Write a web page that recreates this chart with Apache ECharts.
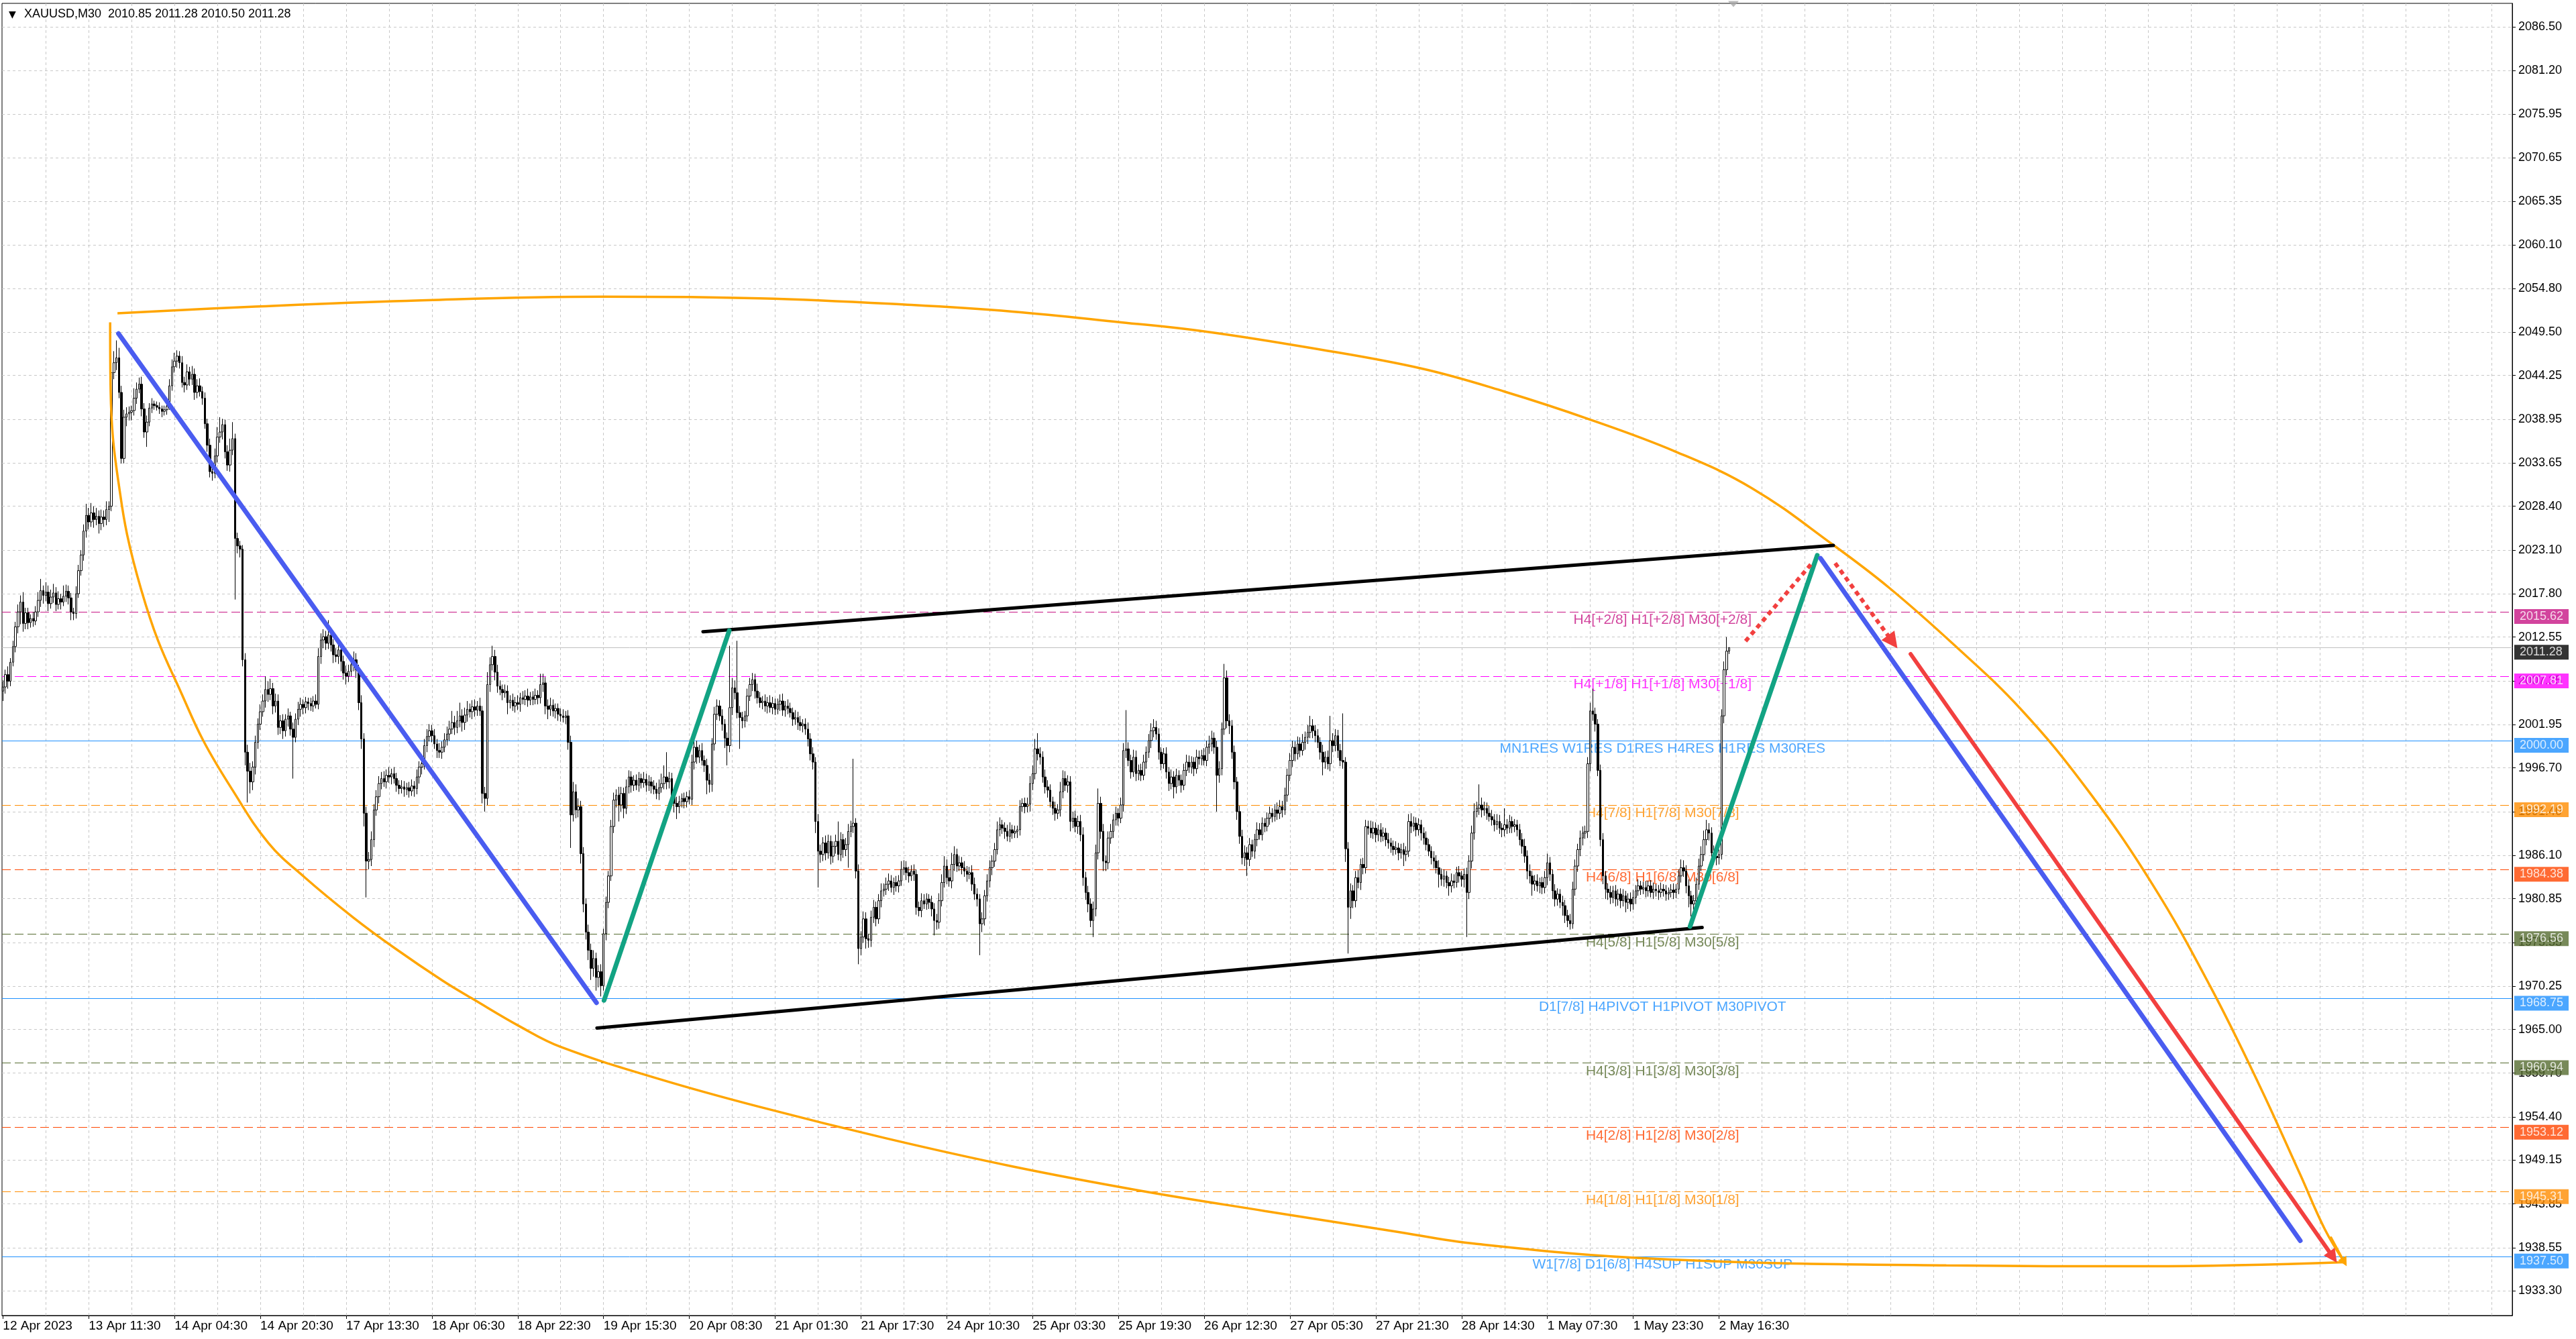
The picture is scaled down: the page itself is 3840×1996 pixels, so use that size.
<!DOCTYPE html>
<html><head><meta charset="utf-8">
<script src="https://cdn.jsdelivr.net/npm/echarts@6/dist/echarts.min.js"></script>
<style>html,body{margin:0;padding:0;background:#fff;}#c{width:3840px;height:1996px;}</style>
</head><body><div id="c"></div>
<script>
// ---------------- DATA ----------------
const xLabelIdx = [0,34,68,102,136,170,204,238,272,306,340,374,408,442,476,510,544,578,612,646,680];
const xLabels = ["12 Apr 2023","13 Apr 11:30","14 Apr 04:30","14 Apr 20:30","17 Apr 13:30","18 Apr 06:30","18 Apr 22:30","19 Apr 15:30","20 Apr 08:30","21 Apr 01:30","21 Apr 17:30","24 Apr 10:30","25 Apr 03:30","25 Apr 19:30","26 Apr 12:30","27 Apr 05:30","27 Apr 21:30","28 Apr 14:30","1 May 07:30","1 May 23:30","2 May 16:30"];
const yTicks = [2086.50,2081.20,2075.95,2070.65,2065.35,2060.10,2054.80,2049.50,2044.25,2038.95,2033.65,2028.40,2023.10,2017.80,2012.55,2007.25,2001.95,1996.70,1991.40,1986.10,1980.85,1975.55,1970.25,1965.00,1959.70,1954.40,1949.15,1943.85,1938.55,1933.30];

const firstOpen = 2006.0;
const closes = [
2006.5,2008.0,2007.2,2009.5,2011.4,2013.8,2015.6,2016.8,2014.2,2015.5,
2014.3,2014.8,2014.5,2015.6,2017.0,2018.2,2017.6,2018.0,2016.6,2017.4,
2017.9,2016.5,2017.2,2016.8,2017.5,2018.1,2017.3,2015.6,2015.4,2017.8,
2020.6,2022.5,2025.4,2027.3,2026.5,2027.6,2026.8,2027.2,2026.3,2027.1,
2026.8,2028.0,2028.4,2044.6,2045.8,2046.4,2042.2,2034.2,2039.2,2039.6,
2039.8,2040.0,2041.5,2042.6,2043.2,2040.2,2037.4,2038.6,2040.3,2040.8,
2040.6,2040.4,2040.2,2039.9,2040.1,2040.5,2043.0,2045.3,2046.0,2046.6,
2045.8,2043.4,2043.1,2044.7,2043.8,2044.4,2042.2,2043.0,2042.3,2041.5,
2038.4,2035.8,2032.6,2032.4,2034.5,2036.8,2037.4,2038.3,2035.0,2033.4,
2035.2,2036.6,2024.5,2023.6,2023.2,2009.8,1998.6,1996.3,1995.0,1996.8,
1999.8,2002.0,2003.5,2004.8,2006.2,2005.6,2006.3,2004.2,2004.8,2001.6,
2002.4,2001.2,2002.6,2003.0,2001.4,2000.4,2002.6,2003.8,2004.4,2004.0,
2004.7,2004.5,2004.2,2004.8,2004.4,2010.2,2012.2,2012.6,2011.8,2012.8,
2011.6,2010.4,2010.2,2011.0,2009.6,2008.2,2007.8,2008.4,2009.2,2009.8,
2008.6,2004.6,2000.2,1991.2,1985.4,1985.6,1988.0,1991.6,1993.2,1994.8,
1995.4,1995.0,1995.8,1995.6,1996.0,1995.4,1994.6,1994.2,1994.4,1994.1,
1994.3,1993.9,1994.5,1994.2,1995.6,1996.8,1997.2,1999.4,2000.5,2001.2,
2000.6,1999.6,1998.8,1998.6,1999.2,2000.1,2000.8,2001.4,2002.2,2001.6,
2002.4,2003.0,2002.2,2003.1,2003.8,2003.5,2004.1,2003.7,2004.2,2003.6,
1993.6,1993.0,2006.8,2009.2,2010.2,2008.3,2006.6,2006.2,2005.8,2006.0,
2004.6,2004.9,2004.2,2004.6,2004.4,2005.2,2005.0,2005.4,2004.9,2005.3,
2005.0,2005.5,2005.2,2006.8,2007.0,2004.2,2003.8,2004.3,2003.6,2003.9,
2003.2,2003.0,2002.8,2003.0,1999.8,1991.0,1993.8,1991.6,1992.0,1986.3,
1980.2,1976.8,1974.6,1972.4,1973.6,1971.3,1972.0,1970.3,1976.6,1980.4,
1983.6,1989.6,1992.8,1993.4,1992.2,1993.6,1991.8,1994.4,1995.6,1994.6,
1995.2,1994.6,1995.4,1994.9,1995.3,1994.6,1995.0,1994.5,1994.1,1993.6,
1994.3,1994.8,1995.6,1995.0,1995.4,1993.2,1992.4,1992.0,1992.6,1993.0,
1992.6,1993.2,1992.9,1997.4,1999.2,1998.0,1998.8,1997.6,1997.0,1995.2,
1994.7,1999.6,2003.2,2004.2,2003.0,2002.0,2000.3,1999.4,2004.0,2006.4,
2005.8,2003.4,2002.8,2002.4,2003.0,2005.4,2006.8,2007.4,2006.0,2005.2,
2004.6,2004.8,2004.2,2004.6,2004.0,2004.5,2003.8,2004.4,2004.8,2003.7,
2004.2,2003.9,2003.4,2002.6,2002.8,2002.2,2001.8,2002.0,2001.4,2000.2,
1998.4,1997.4,1990.2,1986.6,1986.2,1987.6,1986.4,1987.8,1986.0,1987.2,
1987.8,1986.2,1988.0,1986.8,1987.4,1989.0,1989.6,1990.0,1984.2,1974.8,
1976.2,1978.4,1976.0,1975.8,1978.6,1979.8,1978.4,1980.6,1981.8,1982.0,
1982.6,1983.0,1982.2,1982.8,1982.4,1983.0,1984.4,1984.6,1984.0,1983.6,
1984.2,1983.8,1979.8,1979.4,1980.6,1980.2,1980.8,1980.4,1979.6,1978.2,
1978.0,1980.6,1982.8,1984.8,1983.4,1983.0,1985.0,1986.2,1984.8,1985.2,
1984.6,1984.2,1983.8,1984.0,1982.6,1981.4,1980.8,1977.8,1978.4,1981.2,
1983.0,1984.6,1985.4,1986.8,1989.2,1989.8,1989.4,1989.0,1988.4,1989.2,
1988.8,1989.0,1989.2,1992.0,1992.4,1992.0,1992.3,1994.8,1996.0,1999.0,
1998.4,1998.0,1995.6,1994.4,1994.0,1992.6,1991.8,1991.2,1991.6,1993.8,
1995.4,1994.6,1995.0,1990.2,1990.6,1989.6,1990.2,1988.6,1983.4,1981.6,
1980.2,1978.2,1979.6,1986.4,1992.4,1989.0,1985.4,1985.2,1988.2,1989.0,
1990.4,1991.2,1990.6,1992.2,1998.8,1999.0,1997.6,1996.2,1998.0,1996.0,
1996.4,1995.8,1997.4,1998.6,2000.0,2001.2,2001.6,2000.8,1998.6,1997.2,
1998.4,1996.2,1994.8,1995.6,1994.4,1995.8,1995.2,1994.6,1996.4,1997.4,
1996.8,1997.4,1996.6,1998.0,1997.8,1998.2,1997.6,1999.2,1999.6,2000.3,
1999.2,1995.8,1996.6,2001.4,2007.6,2002.4,2001.8,1998.6,1995.0,1991.4,
1988.4,1985.8,1986.4,1985.6,1987.4,1986.6,1988.0,1989.2,1988.6,1990.0,
1989.6,1990.6,1991.2,1990.8,1991.6,1991.2,1992.0,1991.6,1993.4,1995.8,
1997.6,1999.2,1998.4,1999.6,1998.8,1999.8,2000.4,2001.0,2001.8,2001.2,
2000.6,1999.8,1998.6,1997.4,1998.0,1997.2,2000.0,1999.4,2000.6,1998.8,
1997.6,1997.4,1986.9,1979.8,1981.8,1980.6,1983.4,1982.8,1985.0,1984.6,
1989.6,1989.4,1988.8,1989.4,1988.6,1989.2,1988.4,1988.8,1988.0,1987.6,
1987.2,1986.8,1987.0,1986.4,1986.8,1986.2,1986.6,1990.2,1989.6,1990.0,
1989.2,1989.8,1988.8,1988.2,1987.4,1986.6,1985.8,1985.4,1984.6,1983.8,
1983.2,1983.6,1982.8,1982.4,1983.0,1982.8,1984.0,1983.6,1983.2,1983.8,
1981.6,1985.4,1988.8,1991.4,1991.8,1992.2,1991.6,1991.8,1991.2,1990.8,
1990.4,1989.8,1990.2,1989.4,1989.2,1989.8,1989.4,1990.2,1989.6,1989.8,
1989.2,1988.0,1987.2,1986.0,1984.2,1983.6,1982.6,1983.0,1982.4,1982.8,
1982.2,1983.4,1985.2,1983.8,1981.8,1980.8,1981.4,1980.4,1980.0,1978.8,
1978.2,1977.8,1982.0,1984.8,1986.8,1988.2,1988.8,1989.0,1997.2,2003.6,
2003.2,2002.0,1996.4,1988.0,1983.6,1982.0,1981.6,1981.0,1981.8,1980.8,
1981.4,1980.6,1981.2,1980.4,1980.8,1980.2,1981.0,1981.8,1982.4,1982.0,
1982.2,1981.8,1982.4,1981.6,1982.0,1981.8,1981.6,1982.0,1981.8,1981.4,
1981.6,1981.9,1981.6,1982.0,1983.6,1984.6,1984.2,1982.4,1981.2,1980.2,
1980.6,1982.6,1984.8,1986.2,1988.0,1989.2,1988.8,1986.4,1986.0,1985.8,
1986.2,2003.0,2008.6,2010.85,2011.28
];
const upWick = [
0.8,0.6,1.0,0.5,0.7,0.6,0.9,0.8,1.2,0.6, 0.6,0.5,0.8,0.7,1.0,1.4,0.6,1.2,0.8,0.9,
1.1,0.7,0.9,0.6,1.3,0.8,0.7,0.6,0.5,0.9, 0.7,0.6,0.8,1.4,0.9,1.2,0.8,1.0,0.7,0.9,
0.8,1.0,0.6,0.5,1.4,2.1,1.2,0.8,0.9,0.8, 0.7,0.6,1.2,0.8,0.8,0.9,0.7,0.8,0.6,0.7,
0.4,0.5,0.6,0.4,0.5,0.6,0.8,0.9,1.0,0.7, 0.6,0.8,0.7,0.9,0.6,1.0,0.7,0.8,0.9,0.6,
0.7,0.6,0.8,0.5,0.9,1.2,1.8,0.7,0.6,0.8, 1.4,2.0,0.6,0.7,0.6,0.5,0.8,0.9,1.0,0.7,
0.8,0.7,0.9,0.8,1.6,1.0,1.2,0.7,0.9,0.8, 0.7,0.8,0.6,0.9,0.5,0.8,0.7,0.9,0.8,0.6,
0.6,0.5,0.7,0.6,0.8,1.0,0.8,0.9,0.7,1.8, 0.9,0.7,0.8,1.0,0.6,0.7,0.9,0.8,0.6,1.0,
0.8,0.6,0.9,0.7,0.8,0.9,1.0,0.7,0.8,0.9, 0.8,0.9,0.7,1.0,0.6,0.8,0.7,0.6,0.8,0.7,
0.6,0.7,0.8,0.6,0.9,0.7,1.0,0.8,0.9,0.8, 0.7,0.8,0.6,0.9,0.7,0.8,0.9,1.0,1.4,0.8,
1.2,1.6,0.8,0.9,1.0,0.7,0.8,0.9,0.6,1.0, 0.6,0.8,1.5,0.9,1.3,0.8,0.9,0.7,0.6,0.8,
0.7,0.6,0.8,0.7,0.9,0.6,0.8,0.7,0.9,0.6, 0.7,0.8,0.6,1.3,1.1,0.7,0.8,0.9,0.7,0.6,
0.6,0.7,0.8,0.6,0.7,0.8,1.2,0.9,1.0,0.7, 0.8,0.7,0.9,0.8,1.0,0.7,0.8,0.9,0.6,0.7,
0.6,0.8,0.9,0.7,1.0,0.8,0.7,0.9,0.8,0.7, 0.6,0.7,0.8,0.6,0.9,0.7,0.8,0.6,0.7,0.8,
1.0,1.2,1.4,3.0,0.8,0.7,0.6,0.8,0.7,0.6, 0.7,0.6,0.8,0.9,1.0,0.8,0.7,0.9,0.6,0.8,
0.8,0.7,0.9,0.8,0.7,0.8,0.6,0.7,7.5,1.2, 0.9,6.3,0.8,0.7,0.6,0.9,0.8,0.8,0.7,0.9,
0.7,0.6,0.8,0.7,0.9,0.8,0.6,0.7,0.8,0.9, 0.6,0.8,0.7,0.6,0.9,0.7,0.8,0.6,0.7,0.8,
0.7,0.8,0.6,0.9,0.8,0.7,0.9,0.8,0.7,0.6, 0.8,2.4,0.9,0.7,0.8,0.9,0.7,7.8,0.6,0.8,
0.7,0.9,0.8,0.6,0.8,0.9,0.7,0.8,0.9,0.7, 0.8,0.9,0.7,0.6,0.8,0.7,1.0,0.9,0.8,0.7,
0.7,0.8,0.6,0.7,0.9,0.8,0.7,0.6,0.8,0.7, 0.8,0.9,1.0,1.2,0.8,0.9,1.4,1.0,0.7,0.8,
0.7,0.8,0.6,0.7,0.9,0.8,0.7,0.6,0.8,0.7, 0.8,0.9,0.7,0.8,1.0,0.9,0.6,0.7,0.8,0.9,
0.6,0.7,0.5,0.8,0.6,0.7,0.8,0.9,1.0,1.2, 1.9,0.8,0.7,0.9,0.8,0.7,0.6,0.8,0.7,1.2,
1.0,0.9,0.8,0.7,0.8,0.9,0.7,0.8,0.9,0.7, 0.8,0.7,0.9,1.0,1.8,0.8,0.9,0.7,0.8,0.9,
0.7,0.8,0.6,0.9,0.9,4.7,0.8,0.7,0.9,0.8, 0.7,0.8,0.9,0.7,0.8,0.9,1.0,0.8,0.7,0.6,
0.7,0.8,0.6,0.9,0.7,0.8,0.6,0.7,0.8,0.9, 0.8,0.7,0.6,0.9,0.8,0.7,0.9,0.8,1.0,0.9,
0.7,0.8,0.9,0.8,1.7,0.9,0.8,0.7,0.8,0.6, 0.7,0.8,0.9,0.7,0.8,0.6,0.7,0.9,0.8,0.7,
0.6,0.7,0.8,0.6,0.7,0.9,0.8,0.7,0.9,0.8, 0.9,0.8,0.7,0.9,0.8,1.0,0.7,0.9,1.2,0.8,
0.7,0.8,0.6,0.9,0.7,0.8,3.0,0.9,0.8,0.7, 0.8,5.7,0.6,0.8,0.9,0.7,0.8,0.9,0.7,0.8,
0.8,0.7,0.9,0.8,0.7,0.6,0.8,0.7,0.6,0.8, 0.6,0.7,0.8,0.6,0.7,0.8,0.6,0.9,1.0,0.8,
0.7,0.8,0.6,0.7,0.8,0.7,0.6,0.8,0.7,0.9, 0.7,0.8,0.6,0.7,0.9,0.8,0.7,0.8,0.6,0.7,
0.8,0.7,0.9,1.0,0.8,2.5,0.9,0.8,0.7,0.9, 0.8,0.7,0.9,0.8,0.6,2.0,0.7,0.8,0.6,0.7,
0.6,0.7,0.8,0.9,0.7,0.8,0.6,0.7,0.8,0.6, 0.7,0.8,1.1,0.7,0.6,0.8,0.7,0.6,0.8,0.7,
0.7,0.8,0.9,0.8,0.7,0.9,0.8,0.7,0.8,1.0, 2.7,0.8,0.6,0.7,0.8,0.6,0.7,0.8,0.6,0.7,
0.6,0.7,0.8,0.6,0.7,0.8,0.9,0.7,0.8,0.6, 0.7,0.8,0.6,0.7,0.8,0.6,0.7,0.8,0.6,0.7,
0.6,0.7,0.8,0.6,0.8,1.0,0.9,0.7,0.8,0.6, 0.7,0.8,0.9,1.0,1.1,1.2,0.8,0.7,0.9,0.8,
0.6,0.8,1.0,1.7,0.0
];
const lowWick = [
1.2,0.8,0.9,0.6,0.5,0.7,0.8,1.5,1.0,0.7, 0.8,0.6,0.7,0.5,0.6,0.8,1.0,0.7,0.9,0.6,
0.7,0.8,0.6,0.9,0.5,0.7,0.8,1.0,0.8,0.6, 0.5,0.6,0.7,0.8,0.9,0.6,1.0,0.7,1.2,0.8,
0.9,0.7,1.5,0.6,0.8,0.9,0.7,0.6,0.6,1.1, 0.8,1.0,0.6,0.7,0.5,0.9,0.7,1.8,0.5,0.6,
0.5,0.4,0.6,0.7,0.5,0.6,0.4,0.6,0.7,0.8, 0.7,0.6,0.9,0.6,0.8,0.7,0.9,0.7,0.6,0.8,
0.6,0.8,0.7,0.9,0.6,0.8,0.7,0.9,0.8,0.7, 0.8,0.6,7.4,0.9,1.0,0.8,1.6,3.8,1.4,1.0,
0.9,0.8,0.7,0.6,0.8,0.9,0.7,1.0,0.8,0.9, 0.8,1.0,0.7,0.9,0.8,5.0,0.6,0.7,0.9,0.8,
0.7,0.8,0.6,0.7,0.5,0.6,0.9,1.0,0.8,0.7, 0.8,1.0,0.7,0.9,1.2,0.8,1.0,0.7,0.6,0.8,
1.0,0.9,1.2,1.6,4.4,1.0,0.8,0.9,0.7,0.8, 0.7,0.6,0.8,0.7,0.9,0.6,0.8,0.7,0.6,0.9,
0.7,0.8,0.6,1.0,0.7,0.8,0.9,0.7,0.8,0.6, 0.8,0.6,0.9,0.7,0.8,0.6,0.7,0.8,0.6,0.9,
0.7,0.8,1.1,0.9,0.8,0.7,0.9,0.8,0.7,0.6, 1.2,1.6,0.8,0.9,0.7,1.0,0.8,0.7,0.9,0.6,
1.4,0.7,0.6,0.8,0.7,0.9,0.6,0.7,0.8,0.6, 0.7,0.6,0.8,0.7,0.9,1.0,1.2,0.8,0.7,0.9,
0.8,0.7,0.6,0.8,0.9,4.0,0.8,1.0,0.9,1.2, 1.0,0.9,1.2,1.4,1.0,1.6,1.2,1.3,0.6,0.8,
0.7,0.6,0.8,0.9,2.0,0.8,1.2,0.7,0.8,0.9, 0.7,0.6,0.8,0.7,0.6,0.8,0.7,0.9,0.6,0.7,
0.8,0.6,0.7,0.9,0.8,0.7,1.1,1.5,0.8,0.7, 0.8,0.7,0.6,0.7,0.9,0.8,0.7,0.6,0.8,1.7,
1.0,0.9,0.8,0.7,0.6,0.8,1.2,2.4,0.8,0.9, 0.8,0.7,3.8,0.9,0.8,0.7,0.6,0.8,0.9,0.7,
0.6,0.8,0.7,0.9,0.6,0.8,0.7,0.6,0.8,0.7, 0.8,0.7,0.6,0.8,0.7,0.9,0.6,0.8,0.7,0.9,
0.8,0.9,1.4,4.4,1.0,0.8,0.9,0.7,1.0,0.8, 0.9,0.7,0.8,1.0,0.8,2.8,0.7,0.8,0.9,1.9,
0.8,0.7,1.2,0.9,0.8,0.7,0.9,0.6,0.8,0.7, 0.7,0.8,0.6,0.9,0.7,0.8,0.6,0.7,0.9,0.8,
0.6,0.8,0.9,0.7,0.8,0.6,0.7,0.8,0.9,1.8, 0.9,0.8,0.7,0.6,0.8,0.7,0.9,0.8,0.7,0.6,
0.8,0.7,0.9,0.6,0.8,0.7,0.9,3.8,1.0,0.8, 0.7,0.8,0.9,0.7,0.6,0.8,0.7,0.9,0.6,0.7,
0.7,0.6,0.8,0.7,0.6,0.8,0.7,0.9,0.8,0.7, 0.8,0.9,0.7,0.8,0.9,0.7,0.8,0.9,0.7,0.8,
0.8,0.7,0.9,1.2,0.8,0.7,0.9,0.8,1.0,0.9, 1.0,0.8,2.0,0.9,0.8,0.9,1.2,1.0,0.8,0.7,
0.8,0.7,0.9,0.6,0.8,0.9,0.7,0.8,0.6,0.9, 0.8,0.7,0.6,0.8,0.7,0.9,0.8,0.7,0.9,0.8,
0.6,0.8,0.9,0.7,1.4,0.8,0.7,0.9,0.6,0.7, 0.7,0.8,0.9,0.6,0.7,0.8,0.6,0.7,0.8,0.9,
0.8,4.4,0.9,0.8,0.7,0.9,1.0,0.8,0.9,1.0, 0.9,0.8,1.0,2.0,0.8,0.7,0.9,0.8,0.6,0.7,
0.7,0.6,0.8,0.7,0.6,0.8,0.7,0.9,0.6,0.8, 0.7,0.8,0.9,0.7,0.8,0.6,0.9,0.8,0.7,0.9,
0.8,0.7,0.9,1.6,0.8,0.7,0.9,0.8,0.7,0.9, 0.7,0.8,1.6,5.6,1.4,0.9,0.8,0.7,0.9,0.8,
0.7,0.8,0.6,0.7,0.9,0.8,0.7,0.6,0.8,0.7, 0.8,0.7,0.6,0.9,0.7,1.4,0.8,0.7,0.8,0.6,
0.8,0.7,0.9,0.8,0.7,0.6,0.8,0.9,0.7,1.6, 0.8,0.9,0.7,1.2,0.8,0.7,0.6,0.8,0.9,1.0,
5.4,0.8,0.9,0.8,0.7,0.8,0.9,0.7,0.8,0.6, 0.7,0.8,0.6,0.7,0.9,0.8,0.7,0.6,0.8,0.7,
0.8,0.7,0.9,0.8,1.0,0.9,1.4,0.8,0.7,0.9, 0.8,0.7,0.9,0.8,1.0,0.9,0.8,0.7,1.2,0.9,
0.8,0.7,0.6,0.8,0.7,0.8,0.9,0.7,0.8,0.9, 0.8,0.9,0.7,0.8,1.0,1.2,0.9,0.8,0.7,0.9,
0.8,0.9,0.7,1.2,0.8,0.9,0.7,0.8,0.6,0.7, 0.6,0.8,0.7,0.6,0.8,0.7,0.9,0.6,0.7,0.8,
0.7,0.6,0.8,0.7,0.6,0.8,0.7,0.9,1.4,1.5, 1.0,0.8,0.7,0.6,0.8,0.7,0.9,0.8,1.0,0.9,
0.8,0.6,0.9,0.7,0.35
];

// horizontal level lines (Murrey-style levels)
const levelValues = [2015.62, 2007.81, 2000.00, 1992.19, 1984.38, 1976.56, 1968.75, 1960.94, 1953.12, 1945.31, 1937.50];
const levelNames = ["H4[+2/8] H1[+2/8] M30[+2/8]","H4[+1/8] H1[+1/8] M30[+1/8]","MN1RES W1RES D1RES H4RES H1RES M30RES","H4[7/8] H1[7/8] M30[7/8]","H4[6/8] H1[6/8] M30[6/8]","H4[5/8] H1[5/8] M30[5/8]","D1[7/8] H4PIVOT H1PIVOT M30PIVOT","H4[3/8] H1[3/8] M30[3/8]","H4[2/8] H1[2/8] M30[2/8]","H4[1/8] H1[1/8] M30[1/8]","W1[7/8] D1[6/8] H4SUP H1SUP M30SUP"];
const levelColors = ["#c71585","#ff00ff","#1e90ff","#ff8c00","#ff4500","#556b2f","#1e90ff","#556b2f","#ff4500","#ff8c00","#1e90ff"];
const levelSolid = [false,false,true,false,false,false,true,false,false,false,true];
const lastPrice = 2011.28;
const headerText = "XAUUSD,M30  2010.85 2011.28 2010.50 2011.28";

// hand drawn objects: [barIndex, price]
const blueDown1 = [[45.8,2049.33],[235.2,1968.24]];
const greenUp1 = [[238.2,1968.52],[287.8,2013.33]];
const blackUpper = [[277.4,2013.2],[725.3,2023.66]];
const blackLower = [[235.4,1965.16],[673.3,1977.37]];
const greenUp2 = [[668.5,1977.48],[718.9,2022.45]];
const blueDown2 = [[720.2,2022.1],[910.3,1939.4]];
const redDown = [[755.9,2010.5],[923.3,1937.4]];
const redDotUp = [[690.5,2012.06],[716.8,2021.5]];
const redDotDown = [[726.0,2021.5],[748.8,2011.97]];
const orangeTip = [[922.5,1939.8],[927.8,1936.8]];
const orangeTop = [[45.4,2051.8],[100,2052.6],[160,2053.3],[238,2053.8],[300,2053.6],[360,2052.8],[400,2052.0],[443,2050.7],[476,2049.6],[518,2047.6],[562,2045.1],[595,2042.3],[629,2038.9],[663,2035.0],[693,2030.6],[725.3,2023.7],[747.5,2018.5],[773.5,2011.5],[799.6,2003.8],[825.6,1994.2],[851.7,1982.6],[874.5,1970.3],[894.0,1958.3],[910.3,1947.4],[920.0,1940.8],[927.8,1936.8]];
const orangeBottom = [[42.5,2050.7],[42.7,2042.3],[43.6,2036.7],[45.9,2031.1],[49.2,2025.0],[54.8,2018.3],[61.5,2012.1],[70.5,2005.9],[79.4,2000.0],[90.6,1994.2],[105.2,1987.6],[119.7,1983.4],[138.7,1978.6],[155.5,1974.8],[174.3,1970.9],[186.2,1968.7],[205.2,1965.3],[220.9,1962.9],[260,1959.0],[300,1955.6],[350,1951.8],[400,1948.4],[450,1945.5],[500,1943.0],[550,1940.6],[584,1939.0],[655,1937.2],[770,1936.4],[850,1936.3],[927.8,1936.8]];

// ---------------- BUILD ----------------
const FONT = "'Liberation Sans', Arial, sans-serif";
const N = Math.min(closes.length, upWick.length, lowWick.length);
const candles = [];
for (let i = 0; i < N; i++) {
  const o = i ? closes[i-1] : firstOpen;
  const c = closes[i];
  candles.push([i, o, c, Math.min(o,c) - lowWick[i], Math.max(o,c) + upWick[i]]);
}
const X_MIN = -0.35, X_MAX = 994.3, Y_MIN = 1930.33, Y_MAX = 2089.35;

const vGrid = [];
for (let k = 17; k < X_MAX; k += 17) vGrid.push({xAxis: k});
const hGrid = yTicks.map(v => ({yAxis: v}));

const levelLines = levelValues.map((v,i) => ({
  yAxis: v,
  lineStyle: {color: levelColors[i], width: 1, type: levelSolid[i] ? 'solid' : [13,6]}
}));
levelLines.push({yAxis: lastPrice, lineStyle: {color: '#c0c0c0', width: 1, type: 'solid'}});

const levelLabelData = levelValues.map((v,i) => ({
  value: [657.6, v],
  label: {formatter: levelNames[i], color: levelColors[i]}
}));

const tagData = levelValues.map((v,i) => ({
  value: [X_MAX, v],
  label: {formatter: v.toFixed(2), backgroundColor: levelColors[i]}
}));
tagData.push({value: [X_MAX, lastPrice], label: {formatter: lastPrice.toFixed(2), backgroundColor: '#000000'}});

function seg(pts, style, endSymbol, endSize) {
  return [
    {coord: pts[0], symbol: 'none', lineStyle: style},
    {coord: pts[1], symbol: endSymbol || 'none', symbolSize: endSize || 0}
  ];
}
const trendData = [
  seg(blackUpper, {color:'#000000', width:5, type:'solid', cap:'round'}),
  seg(blackLower, {color:'#000000', width:5, type:'solid', cap:'round'}),
  seg(blueDown1, {color:'#4a5cf0', width:7, type:'solid', cap:'round'}),
  seg(greenUp1, {color:'#12a383', width:7, type:'solid', cap:'round'}),
  seg(greenUp2, {color:'#12a383', width:7, type:'solid', cap:'round'}),
  seg(blueDown2, {color:'#4a5cf0', width:7, type:'solid', cap:'round'}),
  seg(redDown, {color:'#f2403f', width:6, type:'solid', cap:'round'}, 'triangle', 20),
  seg(redDotUp, {color:'#f2403f', width:6, type:[7,6], cap:'butt'}),
  seg(redDotDown, {color:'#f2403f', width:6, type:[7,6], cap:'butt'}, 'triangle', 24),
  seg(orangeTip, {color:'#ffa500', width:3, type:'solid', cap:'round'}, 'triangle', 14)
];

const chart = echarts.init(document.getElementById('c'), null, {renderer: 'canvas'});
chart.setOption({
  animation: false,
  backgroundColor: '#ffffff',
  title: [
    {text: '▼', left: 8, top: 10, textStyle: {fontSize: 14, color: '#000', fontWeight: 'normal', fontFamily: 'DejaVu Sans'}},
    {text: headerText, left: 31, top: 7, textStyle: {fontSize: 18, color: '#000', fontWeight: 'normal', fontFamily: FONT}}
  ],
  grid: {left: 3, right: 95, top: 5, bottom: 35, show: true, borderColor: '#000', borderWidth: 1, backgroundColor: '#fff'},
  xAxis: {
    type: 'value', min: X_MIN, max: X_MAX,
    axisLine: {show: true, onZero: false, lineStyle: {color: '#000', width: 1}},
    axisTick: {show: true, customValues: xLabelIdx, length: 5, lineStyle: {color: '#000'}},
    axisLabel: {customValues: xLabelIdx, formatter: v => xLabels[Math.round(v/34)] || '', align: 'left', margin: 6,
                fontSize: 19, color: '#000', fontFamily: FONT},
    splitLine: {show: false}
  },
  yAxis: {
    type: 'value', position: 'right', min: Y_MIN, max: Y_MAX, scale: true,
    axisLine: {show: true, onZero: false, lineStyle: {color: '#000', width: 1}},
    axisTick: {show: true, customValues: yTicks, length: 5, lineStyle: {color: '#000'}},
    axisLabel: {customValues: yTicks, formatter: v => v.toFixed(2), margin: 9, fontSize: 18, color: '#000', fontFamily: FONT},
    splitLine: {show: false}
  },
  series: [
    {type: 'line', name: 'grid', data: [], z: 0, silent: true,
     markLine: {silent: true, symbol: ['none','none'], z: 0, animation: false, label: {show: false},
                lineStyle: {color: '#c8c8c8', width: 1, type: [4,4]}, data: hGrid.concat(vGrid)}},
    {type: 'line', name: 'levels', data: [], z: 1, silent: true,
     markLine: {silent: true, symbol: ['none','none'], z: 1, animation: false, label: {show: false}, data: levelLines}},
    {type: 'scatter', name: 'levelLabels', data: levelLabelData, symbolSize: 0, z: 1, silent: true,
     label: {show: true, position: 'bottom', distance: 2, fontSize: 21, fontFamily: FONT, align: 'center'}},
    {type: 'candlestick', name: 'XAUUSD', data: candles, z: 3, large: false, barWidth: 3,
     dimensions: ['idx','open','close','lowest','highest'],
     encode: {x: 'idx', y: ['open','close','lowest','highest']},
     itemStyle: {color: '#ffffff', color0: '#000000', borderColor: '#000000', borderColor0: '#000000', borderWidth: 1}},
    {type: 'line', name: 'arcTop', data: orangeTop, smooth: 0.4, symbol: 'none', z: 4, silent: true,
     lineStyle: {color: '#ffa500', width: 3.5}},
    {type: 'line', name: 'arcBottom', data: orangeBottom, smooth: 0.4, symbol: 'none', z: 4, silent: true,
     lineStyle: {color: '#ffa500', width: 3.5}},
    {type: 'line', name: 'trend', data: [], z: 5, silent: true,
     markLine: {silent: true, z: 5, animation: false, label: {show: false}, symbol: ['none','none'], data: trendData}},
    {type: 'scatter', name: 'tags', data: tagData, symbolSize: 0, z: 10, clip: false, silent: true,
     label: {show: true, position: 'right', distance: 3, offset: [0, 7], color: '#ffffff', fontSize: 18, fontFamily: FONT,
             padding: [2, 4, 2, 8], width: 69, lineHeight: 18}},
    {type: 'scatter', name: 'shift', data: [[685.7, Y_MAX]], symbol: 'triangle', symbolRotate: 180, symbolSize: [16, 9],
     symbolOffset: [0, 1], itemStyle: {color: '#a8a8a8'}, z: 10, clip: false, silent: true}
  ]
});
</script>
</body></html>
